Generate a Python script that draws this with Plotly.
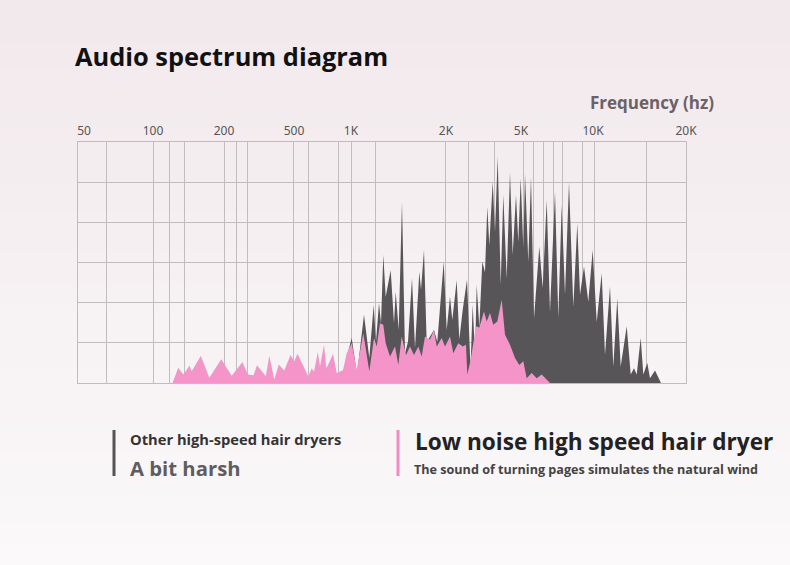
import plotly.graph_objects as go

# spectrum positions run along a warped frequency axis (0 = left frame, 608 = right frame)
grid_pos = [0, 28, 75, 91, 106, 146, 158, 169, 215, 230, 260, 273, 297,
            367, 390, 416, 445, 455, 465, 475, 484, 504, 516, 568, 608]
label_pos = [6, 75, 146, 216, 273, 368, 443, 515, 608]
label_text = ['50', '100', '200', '500', '1K', '2K', '5K', '10K', '20K']

# other high-speed hair dryers (grey)
other_x = [260, 265.3, 273.7, 279, 286, 291.3, 295.7, 298, 301, 303, 305.3, 307.7,
           312.7, 316, 317.7, 320.7, 324, 327, 330, 334, 337, 341.3, 343, 346,
           348.7, 352, 356, 359.3, 365.7, 368.7, 372, 374.3, 378.7, 381.3, 384.7,
           389, 392.5, 394.7, 397, 398.7, 401.3, 404.3, 407, 409.3, 411.3, 414.7,
           417, 419.7, 422.7, 425.3, 428.7, 432, 434.7, 438, 440.3, 442.7, 445.3,
           447, 450.3, 453, 456, 461.3, 464.7, 468.7, 472, 477, 480.3, 483.7, 487,
           491, 495.3, 499.3, 502, 506, 510.3, 514.7, 518.7, 523.7, 527, 532,
           535.3, 539.3, 542.7, 548.7, 552.7, 556, 558.7, 562.7, 565.3, 569.3,
           572, 577, 583]
other_level = [0, 2.9, 11.2, 2.1, 17.0, 6.2, 19.4, 10.3, 19.9, 14.9, 31.9, 21.5,
               28.1, 14.9, 22.7, 13.2, 45.1, 7.4, 10.3, 26.1, 8.7, 27.7, 23.2, 33.1,
               9.9, 11.6, 13.2, 10.3, 30.2, 13.2, 21.5, 15.7, 25.6, 10.8, 18.2,
               25.7, 3.8, 19.5, 7.0, 24.4, 14.0, 30.2, 27.6, 43.9, 34.3, 50.1,
               37.6, 56.3, 24.4, 46.8, 26.1, 52.5, 31.9, 46.8, 35.1, 50.9, 33.6,
               52.1, 30.1, 51.3, 16.1, 33.9, 23.7, 45.5, 17.7, 47.6, 16.2, 44.3, 22.0,
               50.0, 19.0, 39.7, 22.0, 29.0, 20.2, 33.1, 15.2, 27.3, 7.0, 24.0,
               4.1, 21.1, 4.1, 14.1, 2.1, 3.7, 2.1, 11.2, 2.1, 5.0,
               1.2, 3.1, 0]

# low noise hair dryer (pink)
quiet_x = [94.5, 100.3, 105.3, 111.5, 113.7, 122.8, 131.3, 143.3, 153.7, 164.5,
           169.7, 175.5, 179, 187.8, 191.3, 196.3, 200.8, 206.3, 212.5, 216.3,
           219.5, 230.3, 233.7, 236, 239.8, 242, 246, 248.3, 251, 255, 258.7, 265,
           268.7, 273.7, 278.7, 285.3, 291.3, 296, 298.7, 302, 305.3, 307.7, 312,
           317, 320.3, 323.7, 328, 332, 336, 340.3, 343.7, 347, 352, 356, 358.7,
           363.7, 367, 372, 375.3, 380.3, 384.7, 388, 389.3, 392.7, 398, 401.3,
           406, 408.7, 412, 415.3, 419.3, 423.7, 427, 432, 437, 441.3, 445.3,
           448.7, 453.7, 458.7, 463.7, 470.3, 472]
quiet_level = [0, 3.8, 2.1, 4.3, 2.9, 6.8, 1.3, 5.9, 1.8, 5.2,
               2.1, 1.9, 4.4, 1.7, 6.8, 0.9, 4.6, 3.1, 7.0, 5.4,
               7.3, 1.6, 3.7, 2.8, 7.7, 4.1, 9.5, 3.7, 5.0, 7.3, 2.5, 3.2,
               7.4, 9.9, 3.3, 12.4, 2.9, 11.2, 9.1, 14.9, 14.5, 9.9, 6.6,
               9.1, 4.5, 11.6, 7.0, 9.1, 7.0, 9.1, 6.6, 11.6, 10.8, 13.2, 9.1,
               11.2, 9.1, 11.6, 7.4, 9.9, 9.1, 9.5, 2.1, 5.8, 14.1, 13.8,
               17.8, 15.3, 17.4, 14.5, 15.3, 20.7, 12.0, 9.5, 6.2, 4.5, 5.4,
               1.2, 2.5, 1.2, 2.1, 0.4, 0]

GRID = '#c3bcbe'

fig = go.Figure()

fig.add_trace(go.Scatter(
    x=other_x, y=other_level, mode='lines', fill='tozeroy',
    line=dict(width=0, color='#575557'), fillcolor='#575557',
    name='Other high-speed hair dryers', hoverinfo='skip'
))
fig.add_trace(go.Scatter(
    x=quiet_x, y=quiet_level, mode='lines', fill='tozeroy',
    line=dict(width=0, color='#f594c8'), fillcolor='#f594c8',
    name='Low noise high speed hair dryer', hoverinfo='skip'
))
# invisible trace so the top axis (labels) exists
fig.add_trace(go.Scatter(x=[0, 608], y=[0, 0], xaxis='x2', mode='lines',
                         line=dict(width=0), hoverinfo='skip', showlegend=False))

# soft pink-to-white page background
shapes = []
bands = 40
for i in range(bands):
    t = i / (bands - 1)
    r = int(242 + (251 - 242) * t)
    g = int(233 + (249 - 233) * t)
    b = int(236 + (250 - 236) * t)
    shapes.append(dict(
        type='rect', xref='paper', yref='paper', layer='below',
        x0=-0.2, x1=1.3,
        y0=1 + 142 / 241 - (i + 1) * (565 / 241) / bands - 0.001,
        y1=1 + 142 / 241 - i * (565 / 241) / bands + 0.001,
        fillcolor=f'rgb({r},{g},{b})', line=dict(width=0)
    ))

# legend bars
shapes.append(dict(type='line', xref='paper', yref='paper',
                   x0=36 / 608, x1=36 / 608, y0=-47 / 241, y1=-93 / 241,
                   line=dict(color='#555355', width=3)))
shapes.append(dict(type='line', xref='paper', yref='paper',
                   x0=320 / 608, x1=320 / 608, y0=-47 / 241, y1=-93 / 241,
                   line=dict(color='#f08cc0', width=3)))

annotations = [
    dict(text='<b>Frequency (hz)</b>', xref='paper', yref='paper',
         x=638 / 608, y=1 + 39 / 241, xanchor='right', yanchor='middle',
         showarrow=False, font=dict(family='Open Sans', size=17, color='#6a6265')),
    dict(text='<b>Other high-speed hair dryers</b>', xref='paper', yref='paper',
         x=50 / 608, y=-56 / 241, xanchor='left', yanchor='middle',
         showarrow=False, font=dict(family='Open Sans', size=14.7, color='#333333')),
    dict(text='<b>A bit harsh</b>', xref='paper', yref='paper',
         x=50 / 608, y=-85 / 241, xanchor='left', yanchor='middle',
         showarrow=False, font=dict(family='Open Sans', size=20.3, color='#5f5d5f')),
    dict(text='<b>Low noise high speed hair dryer</b>', xref='paper', yref='paper',
         x=335 / 608, y=-58 / 241, xanchor='left', yanchor='middle',
         showarrow=False, font=dict(family='Open Sans', size=22.6, color='#222222')),
    dict(text='<b>The sound of turning pages simulates the natural wind</b>',
         xref='paper', yref='paper',
         x=334 / 608, y=-86 / 241, xanchor='left', yanchor='middle',
         showarrow=False, font=dict(family='Open Sans', size=12.6, color='#444444')),
]

fig.update_layout(
    width=790, height=565,
    margin=dict(l=78, r=104, t=142, b=182),
    paper_bgcolor='#f7f2f3',
    plot_bgcolor='rgba(0,0,0,0)',
    showlegend=False,
    title=dict(text='<b>Audio spectrum diagram</b>', x=75 / 790, xanchor='left',
               y=1 - 57 / 565, yanchor='middle',
               font=dict(family='Open Sans', size=25.4, color='#111111')),
    xaxis=dict(range=[0, 608], tickvals=grid_pos, showticklabels=False,
               showgrid=True, gridcolor=GRID, gridwidth=1, zeroline=False,
               showline=True, linecolor=GRID, mirror=True, fixedrange=True),
    xaxis2=dict(range=[0, 608], overlaying='x', side='top', tickvals=label_pos,
                ticktext=label_text, showgrid=False, zeroline=False,
                ticks='outside', ticklen=1, tickcolor='rgba(0,0,0,0)',
                tickfont=dict(family='Noto Sans', size=12, color='#555555')),
    yaxis=dict(range=[0, 60], dtick=10, showticklabels=False, showgrid=True,
               gridcolor=GRID, gridwidth=1, zeroline=False,
               showline=True, linecolor=GRID, mirror=True, fixedrange=True),
    shapes=shapes,
    annotations=annotations,
)

fig.write_html('out.html', config={'displayModeBar': False},
               post_script="document.body.style.margin='0';")
